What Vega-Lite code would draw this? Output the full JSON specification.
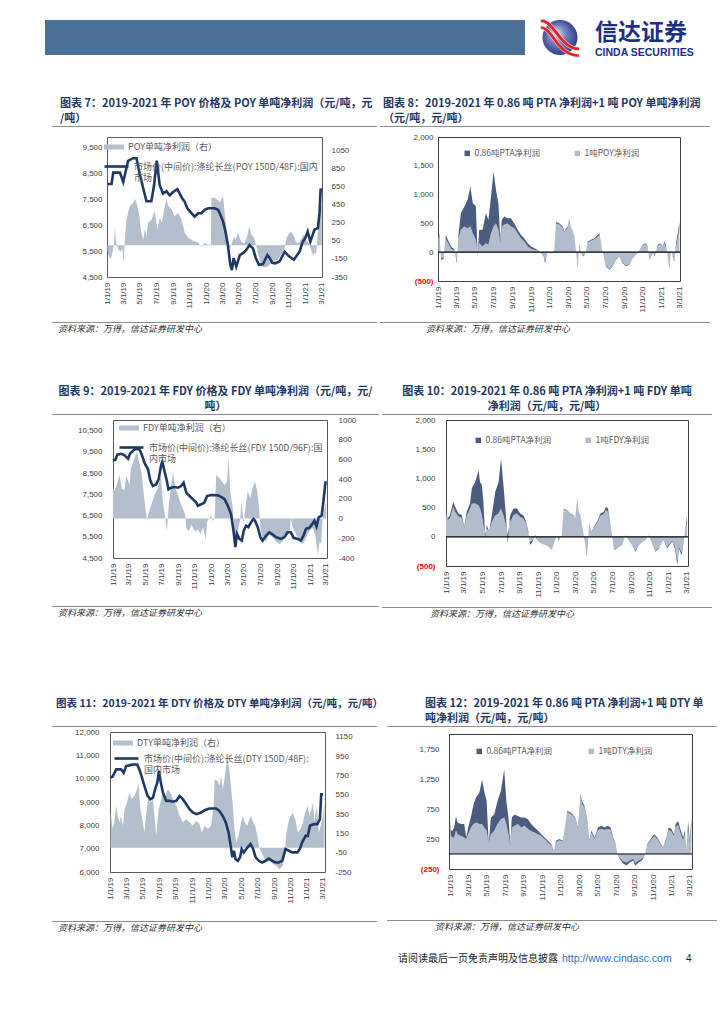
{
"$schema": "https://vega.github.io/schema/vega-lite/v6.json",
"padding": {"left": 45, "top": 17, "right": 0, "bottom": 0},
"config": {
 "view": {"stroke": null},
 "font": "Noto Sans CJK SC",
 "axis": {"domain": false, "ticks": false, "grid": false, "labelFont": "Liberation Sans", "labelFontSize": 8, "labelColor": "#404040", "labelOverlap": false, "labelFlush": false},
 "legend": {"labelFont": "Noto Sans CJK SC", "labelFontSize": 8.5, "labelColor": "#595959", "labelLimit": 300, "padding": 0},
 "title": {"font": "Noto Sans CJK SC", "fontWeight": "bold", "fontSize": 11, "color": "#1f3763", "anchor": "start", "frame": "group", "offset": 2, "lineHeight": 15}
},
"datasets": {
 "p7": [{"d":"2019-01-01","v":8100},{"d":"2019-01-16","v":8100},{"d":"2019-01-22","v":8540},{"d":"2019-02-16","v":8540},{"d":"2019-02-28","v":8180},{"d":"2019-03-18","v":9000},{"d":"2019-04-06","v":9100},{"d":"2019-04-18","v":9100},{"d":"2019-04-30","v":8500},{"d":"2019-05-16","v":7800},{"d":"2019-05-25","v":7430},{"d":"2019-06-12","v":7430},{"d":"2019-06-22","v":8050},{"d":"2019-07-02","v":9000},{"d":"2019-07-13","v":8050},{"d":"2019-07-25","v":7730},{"d":"2019-08-07","v":7820},{"d":"2019-08-19","v":7660},{"d":"2019-08-31","v":7790},{"d":"2019-09-16","v":7900},{"d":"2019-10-04","v":7550},{"d":"2019-10-13","v":7420},{"d":"2019-10-23","v":7160},{"d":"2019-11-07","v":6970},{"d":"2019-11-19","v":6840},{"d":"2019-12-02","v":6970},{"d":"2019-12-14","v":6970},{"d":"2019-12-26","v":7100},{"d":"2020-01-08","v":7160},{"d":"2020-02-01","v":7160},{"d":"2020-02-14","v":7100},{"d":"2020-02-20","v":6970},{"d":"2020-03-03","v":6650},{"d":"2020-03-12","v":6260},{"d":"2020-03-21","v":5740},{"d":"2020-03-30","v":4970},{"d":"2020-04-05","v":4770},{"d":"2020-04-11","v":5230},{"d":"2020-04-21","v":4900},{"d":"2020-05-04","v":5350},{"d":"2020-05-16","v":5420},{"d":"2020-05-28","v":5550},{"d":"2020-06-09","v":5740},{"d":"2020-06-22","v":5610},{"d":"2020-07-02","v":5230},{"d":"2020-07-14","v":4970},{"d":"2020-07-29","v":5000},{"d":"2020-08-14","v":5350},{"d":"2020-08-22","v":5250},{"d":"2020-09-01","v":5050},{"d":"2020-09-12","v":5030},{"d":"2020-09-28","v":5100},{"d":"2020-10-17","v":5480},{"d":"2020-10-31","v":5320},{"d":"2020-11-20","v":5170},{"d":"2020-12-11","v":5480},{"d":"2020-12-23","v":5870},{"d":"2021-01-01","v":6000},{"d":"2021-01-10","v":6260},{"d":"2021-01-20","v":5870},{"d":"2021-02-04","v":6330},{"d":"2021-02-17","v":6400},{"d":"2021-02-23","v":7000},{"d":"2021-02-27","v":7920},{"d":"2021-03-03","v":7800}],
 "q7": [{"d":"2019-01-01","v":-60},{"d":"2019-01-06","v":-120},{"d":"2019-01-13","v":-155},{"d":"2019-01-19","v":-80},{"d":"2019-01-25","v":20},{"d":"2019-01-28","v":195},{"d":"2019-02-02","v":30},{"d":"2019-02-09","v":-40},{"d":"2019-02-18","v":-70},{"d":"2019-02-24","v":-30},{"d":"2019-03-02","v":-190},{"d":"2019-03-06","v":60},{"d":"2019-03-12","v":290},{"d":"2019-03-24","v":430},{"d":"2019-04-06","v":470},{"d":"2019-04-12","v":510},{"d":"2019-04-18","v":470},{"d":"2019-04-27","v":360},{"d":"2019-05-06","v":140},{"d":"2019-05-13","v":65},{"d":"2019-05-19","v":180},{"d":"2019-05-25","v":100},{"d":"2019-05-31","v":250},{"d":"2019-06-12","v":280},{"d":"2019-06-25","v":380},{"d":"2019-07-04","v":175},{"d":"2019-07-13","v":300},{"d":"2019-07-21","v":250},{"d":"2019-07-31","v":420},{"d":"2019-08-07","v":510},{"d":"2019-08-13","v":440},{"d":"2019-08-25","v":400},{"d":"2019-09-06","v":320},{"d":"2019-09-19","v":360},{"d":"2019-10-01","v":290},{"d":"2019-10-13","v":140},{"d":"2019-10-26","v":85},{"d":"2019-11-13","v":50},{"d":"2019-12-02","v":30},{"d":"2019-12-08","v":0},{"d":"2019-12-20","v":-10},{"d":"2019-12-26","v":30},{"d":"2020-01-08","v":5},{"d":"2020-01-18","v":10},{"d":"2020-01-20","v":525},{"d":"2020-02-01","v":525},{"d":"2020-02-14","v":500},{"d":"2020-02-20","v":470},{"d":"2020-02-26","v":510},{"d":"2020-03-03","v":545},{"d":"2020-03-09","v":360},{"d":"2020-03-15","v":210},{"d":"2020-03-21","v":30},{"d":"2020-03-30","v":-30},{"d":"2020-04-05","v":20},{"d":"2020-04-12","v":100},{"d":"2020-04-18","v":65},{"d":"2020-04-27","v":140},{"d":"2020-05-09","v":40},{"d":"2020-05-21","v":20},{"d":"2020-05-31","v":100},{"d":"2020-06-09","v":210},{"d":"2020-06-15","v":120},{"d":"2020-06-25","v":85},{"d":"2020-07-02","v":20},{"d":"2020-07-10","v":-80},{"d":"2020-07-23","v":-230},{"d":"2020-08-04","v":-245},{"d":"2020-08-17","v":-230},{"d":"2020-08-29","v":-190},{"d":"2020-09-10","v":-170},{"d":"2020-09-23","v":-155},{"d":"2020-10-05","v":-100},{"d":"2020-10-17","v":-30},{"d":"2020-10-24","v":85},{"d":"2020-11-05","v":140},{"d":"2020-11-12","v":145},{"d":"2020-11-20","v":100},{"d":"2020-11-29","v":30},{"d":"2020-12-11","v":30},{"d":"2020-12-20","v":90},{"d":"2020-12-27","v":120},{"d":"2021-01-05","v":60},{"d":"2021-01-17","v":0},{"d":"2021-01-30","v":-118},{"d":"2021-02-04","v":-80},{"d":"2021-02-10","v":-100},{"d":"2021-02-17","v":150},{"d":"2021-02-21","v":270},{"d":"2021-02-26","v":470},{"d":"2021-03-03","v":420}],
 "s8": [{"d":"2019-01-01","l":250,"t":300},{"d":"2019-01-04","l":250,"t":330},{"d":"2019-01-10","l":-100,"t":-130},{"d":"2019-01-18","l":-90,"t":-120},{"d":"2019-01-26","l":230,"t":300},{"d":"2019-02-01","l":170,"t":215},{"d":"2019-02-12","l":60,"t":100},{"d":"2019-02-22","l":30,"t":50},{"d":"2019-03-03","l":-150,"t":-190},{"d":"2019-03-08","l":240,"t":300},{"d":"2019-03-16","l":390,"t":680},{"d":"2019-03-27","l":445,"t":790},{"d":"2019-04-07","l":415,"t":910},{"d":"2019-04-16","l":445,"t":1140},{"d":"2019-04-24","l":330,"t":850},{"d":"2019-05-04","l":215,"t":800},{"d":"2019-05-10","l":-40,"t":-75},{"d":"2019-05-15","l":155,"t":390},{"d":"2019-05-26","l":100,"t":390},{"d":"2019-06-06","l":155,"t":680},{"d":"2019-06-14","l":130,"t":560},{"d":"2019-06-23","l":330,"t":970},{"d":"2019-07-01","l":445,"t":1400},{"d":"2019-07-09","l":500,"t":1080},{"d":"2019-07-17","l":390,"t":850},{"d":"2019-07-23","l":155,"t":215},{"d":"2019-07-28","l":445,"t":560},{"d":"2019-08-05","l":475,"t":620},{"d":"2019-08-16","l":500,"t":590},{"d":"2019-08-27","l":445,"t":590},{"d":"2019-09-07","l":415,"t":500},{"d":"2019-09-18","l":330,"t":390},{"d":"2019-09-29","l":240,"t":300},{"d":"2019-10-10","l":185,"t":240},{"d":"2019-10-21","l":100,"t":155},{"d":"2019-11-01","l":60,"t":100},{"d":"2019-11-12","l":40,"t":70},{"d":"2019-11-23","l":30,"t":40},{"d":"2019-12-04","l":-10,"t":-15},{"d":"2019-12-12","l":-60,"t":-75},{"d":"2019-12-17","l":-150,"t":-190},{"d":"2019-12-25","l":20,"t":20},{"d":"2020-01-05","l":-30,"t":-30},{"d":"2020-01-16","l":40,"t":40},{"d":"2020-01-22","l":500,"t":530},{"d":"2020-02-02","l":480,"t":500},{"d":"2020-02-13","l":420,"t":445},{"d":"2020-02-18","l":350,"t":360},{"d":"2020-02-24","l":400,"t":415},{"d":"2020-02-29","l":430,"t":445},{"d":"2020-03-05","l":580,"t":590},{"d":"2020-03-11","l":410,"t":415},{"d":"2020-03-16","l":385,"t":390},{"d":"2020-03-22","l":265,"t":270},{"d":"2020-03-27","l":40,"t":40},{"d":"2020-04-02","l":-250,"t":-280},{"d":"2020-04-07","l":140,"t":155},{"d":"2020-04-13","l":-20,"t":-20},{"d":"2020-04-18","l":-60,"t":-75},{"d":"2020-04-26","l":-40,"t":-45},{"d":"2020-05-05","l":170,"t":185},{"d":"2020-05-15","l":200,"t":215},{"d":"2020-05-26","l":220,"t":240},{"d":"2020-06-06","l":270,"t":300},{"d":"2020-06-12","l":300,"t":330},{"d":"2020-06-17","l":150,"t":155},{"d":"2020-06-26","l":-70,"t":-75},{"d":"2020-07-04","l":-230,"t":-250},{"d":"2020-07-15","l":-290,"t":-305},{"d":"2020-07-25","l":-240,"t":-250},{"d":"2020-08-05","l":-120,"t":-130},{"d":"2020-08-16","l":-70,"t":-75},{"d":"2020-08-27","l":-180,"t":-190},{"d":"2020-09-07","l":-230,"t":-245},{"d":"2020-09-18","l":-210,"t":-220},{"d":"2020-09-29","l":-100,"t":-105},{"d":"2020-10-10","l":-40,"t":-45},{"d":"2020-10-21","l":40,"t":40},{"d":"2020-11-01","l":120,"t":130},{"d":"2020-11-11","l":140,"t":155},{"d":"2020-11-17","l":90,"t":100},{"d":"2020-11-23","l":-110,"t":-130},{"d":"2020-12-04","l":-20,"t":-20},{"d":"2020-12-11","l":-60,"t":-75},{"d":"2020-12-20","l":110,"t":130},{"d":"2020-12-29","l":140,"t":155},{"d":"2021-01-05","l":90,"t":100},{"d":"2021-01-11","l":160,"t":185},{"d":"2021-01-16","l":100,"t":130},{"d":"2021-01-22","l":-60,"t":-75},{"d":"2021-01-27","l":-240,"t":-280},{"d":"2021-02-02","l":30,"t":40},{"d":"2021-02-07","l":-60,"t":-75},{"d":"2021-02-13","l":-140,"t":-160},{"d":"2021-02-18","l":100,"t":155},{"d":"2021-02-24","l":250,"t":330},{"d":"2021-03-01","l":400,"t":530}],
 "p9": [{"d":"2019-01-01","v":9090},{"d":"2019-01-10","v":9130},{"d":"2019-01-17","v":9370},{"d":"2019-02-01","v":9410},{"d":"2019-02-13","v":9340},{"d":"2019-02-26","v":9180},{"d":"2019-03-05","v":9410},{"d":"2019-03-16","v":9550},{"d":"2019-03-28","v":9650},{"d":"2019-04-10","v":9600},{"d":"2019-04-18","v":9370},{"d":"2019-04-28","v":8980},{"d":"2019-05-11","v":8670},{"d":"2019-05-20","v":8120},{"d":"2019-05-29","v":7890},{"d":"2019-06-10","v":7970},{"d":"2019-06-19","v":8200},{"d":"2019-06-29","v":8900},{"d":"2019-07-03","v":9030},{"d":"2019-07-11","v":8590},{"d":"2019-07-20","v":8120},{"d":"2019-07-26","v":7730},{"d":"2019-08-05","v":7810},{"d":"2019-08-17","v":7840},{"d":"2019-08-30","v":7810},{"d":"2019-09-11","v":7890},{"d":"2019-09-20","v":8050},{"d":"2019-09-30","v":7580},{"d":"2019-10-12","v":7420},{"d":"2019-10-24","v":7270},{"d":"2019-11-06","v":7110},{"d":"2019-11-12","v":6960},{"d":"2019-11-24","v":7030},{"d":"2019-12-06","v":7110},{"d":"2019-12-16","v":7420},{"d":"2019-12-31","v":7470},{"d":"2020-01-25","v":7450},{"d":"2020-02-06","v":7380},{"d":"2020-02-19","v":7270},{"d":"2020-03-02","v":6960},{"d":"2020-03-14","v":6570},{"d":"2020-03-23","v":5790},{"d":"2020-03-30","v":5010},{"d":"2020-04-05","v":5640},{"d":"2020-04-14","v":5400},{"d":"2020-04-23","v":5320},{"d":"2020-04-30","v":5790},{"d":"2020-05-09","v":6020},{"d":"2020-05-17","v":5950},{"d":"2020-05-27","v":6180},{"d":"2020-06-05","v":6340},{"d":"2020-06-11","v":6260},{"d":"2020-06-21","v":5950},{"d":"2020-07-01","v":5480},{"d":"2020-07-09","v":5320},{"d":"2020-07-22","v":5560},{"d":"2020-08-03","v":5710},{"d":"2020-08-16","v":5600},{"d":"2020-08-28","v":5480},{"d":"2020-09-15","v":5400},{"d":"2020-09-28","v":5480},{"d":"2020-10-10","v":5710},{"d":"2020-10-22","v":5710},{"d":"2020-11-01","v":5450},{"d":"2020-11-16","v":5400},{"d":"2020-11-28","v":5320},{"d":"2020-12-08","v":5560},{"d":"2020-12-17","v":5870},{"d":"2020-12-29","v":5920},{"d":"2021-01-08","v":6070},{"d":"2021-01-17","v":6260},{"d":"2021-01-25","v":5980},{"d":"2021-02-02","v":6410},{"d":"2021-02-13","v":6490},{"d":"2021-02-20","v":7190},{"d":"2021-02-27","v":8050},{"d":"2021-03-04","v":8050}],
 "q9": [{"d":"2019-01-01","v":310},{"d":"2019-01-07","v":280},{"d":"2019-01-19","v":375},{"d":"2019-01-25","v":445},{"d":"2019-02-03","v":300},{"d":"2019-02-13","v":290},{"d":"2019-02-19","v":445},{"d":"2019-03-03","v":340},{"d":"2019-03-09","v":510},{"d":"2019-03-21","v":610},{"d":"2019-03-31","v":680},{"d":"2019-04-10","v":545},{"d":"2019-04-18","v":445},{"d":"2019-04-28","v":175},{"d":"2019-05-07","v":-25},{"d":"2019-05-13","v":55},{"d":"2019-05-23","v":140},{"d":"2019-06-04","v":240},{"d":"2019-06-17","v":310},{"d":"2019-06-27","v":445},{"d":"2019-07-05","v":175},{"d":"2019-07-14","v":5},{"d":"2019-07-20","v":-130},{"d":"2019-07-26","v":110},{"d":"2019-08-03","v":310},{"d":"2019-08-12","v":480},{"d":"2019-08-20","v":310},{"d":"2019-08-30","v":240},{"d":"2019-09-11","v":140},{"d":"2019-09-26","v":40},{"d":"2019-09-30","v":-95},{"d":"2019-10-09","v":-130},{"d":"2019-10-19","v":-60},{"d":"2019-10-31","v":-130},{"d":"2019-11-12","v":-110},{"d":"2019-11-22","v":-160},{"d":"2019-12-01","v":-90},{"d":"2019-12-11","v":-210},{"d":"2019-12-17","v":-25},{"d":"2019-12-26","v":5},{"d":"2019-12-31","v":40},{"d":"2020-01-06","v":-25},{"d":"2020-01-13","v":5},{"d":"2020-01-19","v":445},{"d":"2020-01-31","v":410},{"d":"2020-02-09","v":375},{"d":"2020-02-19","v":340},{"d":"2020-02-28","v":375},{"d":"2020-03-05","v":610},{"d":"2020-03-11","v":275},{"d":"2020-03-20","v":110},{"d":"2020-03-26","v":-130},{"d":"2020-04-01","v":-295},{"d":"2020-04-07","v":-145},{"d":"2020-04-16","v":-25},{"d":"2020-04-22","v":175},{"d":"2020-04-30","v":-60},{"d":"2020-05-09","v":175},{"d":"2020-05-15","v":275},{"d":"2020-05-25","v":210},{"d":"2020-06-02","v":310},{"d":"2020-06-11","v":375},{"d":"2020-06-19","v":275},{"d":"2020-06-26","v":110},{"d":"2020-07-01","v":-95},{"d":"2020-07-09","v":-195},{"d":"2020-07-22","v":-230},{"d":"2020-08-03","v":-160},{"d":"2020-08-16","v":-195},{"d":"2020-08-28","v":-230},{"d":"2020-09-10","v":-260},{"d":"2020-09-22","v":-230},{"d":"2020-10-04","v":-145},{"d":"2020-10-17","v":-130},{"d":"2020-10-22","v":5},{"d":"2020-10-29","v":-95},{"d":"2020-11-10","v":-160},{"d":"2020-11-23","v":-230},{"d":"2020-12-05","v":-260},{"d":"2020-12-17","v":-195},{"d":"2020-12-29","v":-130},{"d":"2021-01-11","v":-95},{"d":"2021-01-20","v":-160},{"d":"2021-01-30","v":-365},{"d":"2021-02-06","v":-230},{"d":"2021-02-11","v":-260},{"d":"2021-02-17","v":5},{"d":"2021-02-24","v":110},{"d":"2021-03-02","v":175}],
 "s10": [{"d":"2019-01-01","l":400,"t":490},{"d":"2019-01-06","l":290,"t":315},{"d":"2019-01-14","l":315,"t":370},{"d":"2019-01-25","l":515,"t":600},{"d":"2019-01-31","l":430,"t":515},{"d":"2019-02-11","l":350,"t":400},{"d":"2019-02-22","l":320,"t":370},{"d":"2019-03-02","l":150,"t":170},{"d":"2019-03-10","l":350,"t":430},{"d":"2019-03-21","l":485,"t":570},{"d":"2019-03-27","l":570,"t":830},{"d":"2019-04-07","l":570,"t":940},{"d":"2019-04-18","l":540,"t":1140},{"d":"2019-04-23","l":485,"t":940},{"d":"2019-04-29","l":370,"t":885},{"d":"2019-05-04","l":200,"t":600},{"d":"2019-05-10","l":50,"t":-30},{"d":"2019-05-15","l":140,"t":200},{"d":"2019-05-23","l":85,"t":85},{"d":"2019-06-01","l":255,"t":370},{"d":"2019-06-12","l":370,"t":770},{"d":"2019-06-23","l":400,"t":940},{"d":"2019-07-01","l":485,"t":1340},{"d":"2019-07-09","l":370,"t":885},{"d":"2019-07-17","l":200,"t":370},{"d":"2019-07-23","l":30,"t":-115},{"d":"2019-07-31","l":255,"t":370},{"d":"2019-08-11","l":370,"t":485},{"d":"2019-08-22","l":400,"t":485},{"d":"2019-09-02","l":340,"t":400},{"d":"2019-09-13","l":310,"t":370},{"d":"2019-09-21","l":230,"t":260},{"d":"2019-09-29","l":60,"t":85},{"d":"2019-10-05","l":-90,"t":-140},{"d":"2019-10-13","l":-60,"t":-85},{"d":"2019-10-21","l":10,"t":30},{"d":"2019-11-01","l":-80,"t":-85},{"d":"2019-11-12","l":-110,"t":-115},{"d":"2019-11-23","l":-140,"t":-140},{"d":"2019-12-04","l":-170,"t":-170},{"d":"2019-12-15","l":-230,"t":-230},{"d":"2019-12-21","l":-140,"t":-140},{"d":"2019-12-26","l":-55,"t":-55},{"d":"2020-01-01","l":30,"t":30},{"d":"2020-01-06","l":-85,"t":-85},{"d":"2020-01-17","l":30,"t":30},{"d":"2020-01-23","l":470,"t":485},{"d":"2020-02-03","l":450,"t":460},{"d":"2020-02-14","l":390,"t":400},{"d":"2020-02-25","l":360,"t":370},{"d":"2020-03-01","l":300,"t":310},{"d":"2020-03-08","l":640,"t":660},{"d":"2020-03-12","l":420,"t":430},{"d":"2020-03-18","l":360,"t":370},{"d":"2020-03-23","l":190,"t":200},{"d":"2020-03-29","l":30,"t":30},{"d":"2020-04-03","l":-130,"t":-140},{"d":"2020-04-08","l":-300,"t":-340},{"d":"2020-04-12","l":-80,"t":-85},{"d":"2020-04-16","l":210,"t":230},{"d":"2020-04-23","l":80,"t":85},{"d":"2020-05-01","l":160,"t":170},{"d":"2020-05-12","l":240,"t":260},{"d":"2020-05-23","l":360,"t":400},{"d":"2020-06-03","l":390,"t":430},{"d":"2020-06-10","l":460,"t":515},{"d":"2020-06-17","l":430,"t":485},{"d":"2020-06-25","l":180,"t":200},{"d":"2020-06-30","l":30,"t":30},{"d":"2020-07-06","l":-190,"t":-200},{"d":"2020-07-11","l":-220,"t":-230},{"d":"2020-07-22","l":-160,"t":-170},{"d":"2020-08-02","l":-130,"t":-140},{"d":"2020-08-13","l":30,"t":30},{"d":"2020-08-24","l":-50,"t":-55},{"d":"2020-09-04","l":-130,"t":-140},{"d":"2020-09-15","l":-240,"t":-255},{"d":"2020-09-26","l":-130,"t":-140},{"d":"2020-10-07","l":-80,"t":-85},{"d":"2020-10-18","l":-50,"t":-55},{"d":"2020-10-29","l":30,"t":30},{"d":"2020-11-09","l":-110,"t":-115},{"d":"2020-11-20","l":-240,"t":-255},{"d":"2020-12-01","l":-190,"t":-200},{"d":"2020-12-12","l":-80,"t":-85},{"d":"2020-12-17","l":-50,"t":-55},{"d":"2020-12-28","l":-180,"t":-200},{"d":"2021-01-05","l":-120,"t":-140},{"d":"2021-01-14","l":-70,"t":-85},{"d":"2021-01-23","l":-170,"t":-200},{"d":"2021-01-31","l":-400,"t":-485},{"d":"2021-02-05","l":-170,"t":-200},{"d":"2021-02-14","l":-270,"t":-315},{"d":"2021-02-21","l":-70,"t":-85},{"d":"2021-02-27","l":110,"t":140},{"d":"2021-03-04","l":250,"t":370}],
 "p11": [{"d":"2019-01-01","v":10050},{"d":"2019-01-09","v":10090},{"d":"2019-01-22","v":10400},{"d":"2019-02-09","v":10400},{"d":"2019-02-19","v":10260},{"d":"2019-02-28","v":10540},{"d":"2019-03-12","v":10570},{"d":"2019-03-25","v":10610},{"d":"2019-04-10","v":10610},{"d":"2019-04-18","v":10400},{"d":"2019-04-27","v":10090},{"d":"2019-05-07","v":9690},{"d":"2019-05-19","v":9260},{"d":"2019-05-29","v":9120},{"d":"2019-06-08","v":9190},{"d":"2019-06-16","v":9550},{"d":"2019-06-24","v":9830},{"d":"2019-06-30","v":10330},{"d":"2019-07-06","v":9900},{"d":"2019-07-15","v":9400},{"d":"2019-07-27","v":9050},{"d":"2019-08-09","v":9050},{"d":"2019-08-21","v":9010},{"d":"2019-09-03","v":9050},{"d":"2019-09-15","v":9260},{"d":"2019-09-27","v":9120},{"d":"2019-10-10","v":8900},{"d":"2019-10-22","v":8690},{"d":"2019-11-03","v":8550},{"d":"2019-11-16","v":8480},{"d":"2019-12-04","v":8550},{"d":"2019-12-19","v":8660},{"d":"2020-01-04","v":8720},{"d":"2020-01-29","v":8720},{"d":"2020-02-10","v":8620},{"d":"2020-02-22","v":8410},{"d":"2020-03-05","v":8120},{"d":"2020-03-15","v":7700},{"d":"2020-03-23","v":7130},{"d":"2020-03-29","v":6630},{"d":"2020-04-04","v":6910},{"d":"2020-04-10","v":6560},{"d":"2020-04-19","v":6480},{"d":"2020-04-27","v":6630},{"d":"2020-05-03","v":6980},{"d":"2020-05-11","v":6840},{"d":"2020-05-24","v":7050},{"d":"2020-06-05","v":7200},{"d":"2020-06-14","v":7010},{"d":"2020-06-24","v":6630},{"d":"2020-07-06","v":6480},{"d":"2020-07-18","v":6410},{"d":"2020-07-31","v":6480},{"d":"2020-08-12","v":6580},{"d":"2020-08-25","v":6480},{"d":"2020-09-06","v":6410},{"d":"2020-09-18","v":6410},{"d":"2020-10-01","v":6480},{"d":"2020-10-13","v":6980},{"d":"2020-10-26","v":6910},{"d":"2020-11-07","v":6840},{"d":"2020-11-26","v":6840},{"d":"2020-12-05","v":6980},{"d":"2020-12-14","v":7270},{"d":"2020-12-27","v":7550},{"d":"2021-01-04","v":7550},{"d":"2021-01-12","v":7980},{"d":"2021-01-27","v":8050},{"d":"2021-02-08","v":8050},{"d":"2021-02-18","v":8260},{"d":"2021-02-23","v":9330},{"d":"2021-03-02","v":9330}],
 "q11": [{"d":"2019-01-01","v":365},{"d":"2019-01-03","v":330},{"d":"2019-01-09","v":195},{"d":"2019-01-15","v":265},{"d":"2019-01-22","v":435},{"d":"2019-01-28","v":330},{"d":"2019-02-03","v":265},{"d":"2019-02-09","v":330},{"d":"2019-02-16","v":230},{"d":"2019-02-22","v":400},{"d":"2019-03-03","v":470},{"d":"2019-03-12","v":570},{"d":"2019-03-21","v":505},{"d":"2019-03-31","v":540},{"d":"2019-04-10","v":605},{"d":"2019-04-15","v":675},{"d":"2019-04-22","v":400},{"d":"2019-05-01","v":265},{"d":"2019-05-07","v":160},{"d":"2019-05-13","v":330},{"d":"2019-05-22","v":540},{"d":"2019-05-29","v":470},{"d":"2019-06-08","v":505},{"d":"2019-06-14","v":300},{"d":"2019-06-20","v":125},{"d":"2019-06-29","v":400},{"d":"2019-07-06","v":470},{"d":"2019-07-15","v":605},{"d":"2019-07-23","v":540},{"d":"2019-08-02","v":605},{"d":"2019-08-12","v":570},{"d":"2019-08-21","v":505},{"d":"2019-09-03","v":435},{"d":"2019-09-15","v":330},{"d":"2019-09-27","v":265},{"d":"2019-10-10","v":300},{"d":"2019-10-22","v":265},{"d":"2019-11-03","v":230},{"d":"2019-11-16","v":280},{"d":"2019-11-28","v":245},{"d":"2019-12-07","v":160},{"d":"2019-12-17","v":230},{"d":"2019-12-29","v":195},{"d":"2020-01-10","v":230},{"d":"2020-01-20","v":435},{"d":"2020-01-23","v":710},{"d":"2020-02-04","v":690},{"d":"2020-02-10","v":640},{"d":"2020-02-17","v":745},{"d":"2020-02-23","v":605},{"d":"2020-02-29","v":710},{"d":"2020-03-06","v":845},{"d":"2020-03-10","v":915},{"d":"2020-03-19","v":795},{"d":"2020-03-25","v":605},{"d":"2020-03-31","v":435},{"d":"2020-04-06","v":195},{"d":"2020-04-13","v":55},{"d":"2020-04-21","v":125},{"d":"2020-05-01","v":265},{"d":"2020-05-08","v":330},{"d":"2020-05-14","v":265},{"d":"2020-05-24","v":230},{"d":"2020-06-01","v":300},{"d":"2020-06-07","v":330},{"d":"2020-06-14","v":265},{"d":"2020-06-22","v":230},{"d":"2020-06-30","v":125},{"d":"2020-07-08","v":0},{"d":"2020-07-21","v":-80},{"d":"2020-08-02","v":-150},{"d":"2020-08-14","v":-130},{"d":"2020-08-27","v":-165},{"d":"2020-09-08","v":-185},{"d":"2020-09-21","v":-220},{"d":"2020-10-03","v":-185},{"d":"2020-10-09","v":-100},{"d":"2020-10-15","v":125},{"d":"2020-10-24","v":265},{"d":"2020-11-01","v":330},{"d":"2020-11-09","v":365},{"d":"2020-11-18","v":300},{"d":"2020-11-28","v":160},{"d":"2020-12-08","v":195},{"d":"2020-12-17","v":265},{"d":"2020-12-25","v":365},{"d":"2021-01-04","v":435},{"d":"2021-01-10","v":330},{"d":"2021-01-17","v":400},{"d":"2021-01-23","v":470},{"d":"2021-01-29","v":280},{"d":"2021-02-07","v":435},{"d":"2021-02-14","v":160},{"d":"2021-02-21","v":230},{"d":"2021-03-01","v":330},{"d":"2021-03-07","v":470}],
 "s12": [{"d":"2019-01-01","l":450,"t":550},{"d":"2019-01-03","l":300,"t":390},{"d":"2019-01-09","l":275,"t":390},{"d":"2019-01-14","l":275,"t":440},{"d":"2019-01-20","l":390,"t":635},{"d":"2019-01-25","l":330,"t":525},{"d":"2019-02-05","l":300,"t":500},{"d":"2019-02-16","l":275,"t":500},{"d":"2019-02-23","l":250,"t":275},{"d":"2019-03-01","l":330,"t":440},{"d":"2019-03-10","l":440,"t":610},{"d":"2019-03-19","l":500,"t":830},{"d":"2019-03-27","l":525,"t":940},{"d":"2019-04-07","l":500,"t":1020},{"d":"2019-04-16","l":500,"t":1240},{"d":"2019-04-23","l":440,"t":1050},{"d":"2019-05-01","l":390,"t":885},{"d":"2019-05-08","l":165,"t":165},{"d":"2019-05-15","l":330,"t":610},{"d":"2019-05-26","l":385,"t":660},{"d":"2019-06-06","l":500,"t":885},{"d":"2019-06-17","l":580,"t":1050},{"d":"2019-06-28","l":610,"t":1410},{"d":"2019-07-05","l":500,"t":885},{"d":"2019-07-12","l":330,"t":610},{"d":"2019-07-18","l":140,"t":165},{"d":"2019-07-23","l":440,"t":610},{"d":"2019-08-01","l":470,"t":660},{"d":"2019-08-12","l":500,"t":635},{"d":"2019-08-23","l":440,"t":610},{"d":"2019-09-03","l":470,"t":610},{"d":"2019-09-14","l":415,"t":580},{"d":"2019-09-25","l":385,"t":500},{"d":"2019-10-06","l":360,"t":440},{"d":"2019-10-17","l":330,"t":390},{"d":"2019-10-28","l":300,"t":330},{"d":"2019-11-08","l":250,"t":275},{"d":"2019-11-19","l":190,"t":220},{"d":"2019-11-30","l":150,"t":165},{"d":"2019-12-09","l":50,"t":55},{"d":"2019-12-16","l":200,"t":220},{"d":"2019-12-27","l":230,"t":250},{"d":"2020-01-07","l":210,"t":220},{"d":"2020-01-13","l":380,"t":390},{"d":"2020-01-22","l":700,"t":720},{"d":"2020-02-02","l":670,"t":690},{"d":"2020-02-09","l":640,"t":660},{"d":"2020-02-17","l":590,"t":610},{"d":"2020-02-26","l":420,"t":440},{"d":"2020-03-06","l":940,"t":995},{"d":"2020-03-10","l":840,"t":880},{"d":"2020-03-19","l":770,"t":800},{"d":"2020-03-28","l":520,"t":550},{"d":"2020-04-04","l":200,"t":220},{"d":"2020-04-10","l":360,"t":390},{"d":"2020-04-21","l":250,"t":275},{"d":"2020-05-02","l":400,"t":440},{"d":"2020-05-13","l":420,"t":470},{"d":"2020-05-24","l":400,"t":440},{"d":"2020-06-04","l":420,"t":470},{"d":"2020-06-13","l":400,"t":440},{"d":"2020-06-21","l":250,"t":275},{"d":"2020-06-29","l":150,"t":165},{"d":"2020-07-05","l":0,"t":0},{"d":"2020-07-13","l":-60,"t":-80},{"d":"2020-07-24","l":-120,"t":-160},{"d":"2020-08-04","l":-140,"t":-190},{"d":"2020-08-15","l":-110,"t":-140},{"d":"2020-08-26","l":-80,"t":-110},{"d":"2020-09-02","l":-150,"t":-195},{"d":"2020-09-13","l":-110,"t":-140},{"d":"2020-09-24","l":-80,"t":-110},{"d":"2020-10-03","l":-20,"t":-25},{"d":"2020-10-12","l":150,"t":165},{"d":"2020-10-23","l":230,"t":250},{"d":"2020-11-03","l":300,"t":330},{"d":"2020-11-14","l":250,"t":275},{"d":"2020-11-25","l":150,"t":165},{"d":"2020-12-03","l":100,"t":110},{"d":"2020-12-14","l":250,"t":275},{"d":"2020-12-21","l":400,"t":440},{"d":"2020-12-30","l":380,"t":415},{"d":"2021-01-08","l":300,"t":330},{"d":"2021-01-13","l":450,"t":500},{"d":"2021-01-21","l":480,"t":550},{"d":"2021-01-30","l":330,"t":390},{"d":"2021-02-07","l":230,"t":275},{"d":"2021-02-12","l":330,"t":390},{"d":"2021-02-18","l":50,"t":55},{"d":"2021-02-23","l":420,"t":550},{"d":"2021-03-01","l":180,"t":220},{"d":"2021-03-06","l":450,"t":610}]
},
"spacing": 0,
"resolve": {"scale": {"fill": "independent", "stroke": "independent"}, "legend": {"fill": "independent", "stroke": "independent"}},
"vconcat": [
 {"hconcat": [
   {"width": 480, "height": 35, "view": {"fill": "#4a7098"}, "data": {"values": [{}]}, "mark": {"type": "point", "size": 0, "opacity": 0}},
   {"width": 50, "height": 35, "data": {"values": [{}]}, "layer": [
     {"mark": {"type": "point", "shape": "circle", "filled": true, "size": 1225, "opacity": 1, "strokeWidth": 0, "fill": {"gradient": "radial", "x1": 0.35, "y1": 0.35, "r1": 0, "x2": 0.5, "y2": 0.5, "r2": 0.6, "stops": [{"offset": 0, "color": "#e9edf6"}, {"offset": 0.45, "color": "#6f7fb8"}, {"offset": 1, "color": "#1c2d80"}]}}},
     {"mark": {"type": "point", "shape": "M-1,-0.95 C-0.2,-0.95 0.05,0.5 1,0.5 L1,0.68 C-0.05,0.68 -0.35,-0.78 -1,-0.78 Z M-1,-0.6 C-0.3,-0.6 -0.1,0.85 1,0.85 L1,1.02 C-0.2,1.02 -0.45,-0.43 -1,-0.43 Z", "filled": true, "size": 1500, "opacity": 1, "fill": "#e1222b", "stroke": "#ffffff", "strokeWidth": 0.6}}
   ]},
   {"width": 1, "height": 1, "data": {"values": [{}]}, "mark": {"type": "point", "size": 0, "opacity": 0},
    "title": {"text": "信达证券", "subtitle": "CINDA SECURITIES", "orient": "bottom", "fontSize": 23, "lineHeight": 24, "color": "#1c2f86", "subtitleColor": "#1c2f86", "subtitleFontSize": 10.5, "subtitleFontWeight": "bold", "subtitleFont": "Liberation Sans", "subtitlePadding": 3, "offset": 1}}
 ], "spacing": 10},
 {"width": 1, "height": 39, "data": {"values": [{}]}, "mark": {"type": "point", "size": 0, "opacity": 0}},
 {"hconcat": [
   {"width": 1, "height": 1, "data": {"values": [{}]}, "mark": {"type": "point", "size": 0, "opacity": 0}},
   {"hconcat": [
     {"vconcat": [
       {"width": 325, "height": 1, "view": {"fill": "#8c8c8c"}, "data": {"values": [{}]}, "mark": {"type": "point", "size": 0, "opacity": 0},
        "title": {"text": ["图表 7：2019-2021 年 POY 价格及 POY 单吨净利润（元/吨，元", "/吨）"], "dx": 8}},
       {"vconcat": [
         {"hconcat": [
           {"width": 1, "height": 1, "data": {"values": [{}]}, "mark": {"type": "point", "size": 0, "opacity": 0}},
           {"width": 215, "height": 140, "view": {"stroke": "#595959", "strokeWidth": 1},
            "layer": [
              {"data": {"name": "q7"}, "mark": {"type": "area"},
               "encoding": {
                 "x": {"field": "d", "type": "temporal", "scale": {"type": "utc", "domain": [{"year":2018,"month":12,"date":30,"utc":true},{"year":2021,"month":3,"date":4,"utc":true}]}, "axis": {"values": [{"year":2019,"month":1,"date":1,"utc":true},{"year":2019,"month":3,"date":1,"utc":true},{"year":2019,"month":5,"date":1,"utc":true},{"year":2019,"month":7,"date":1,"utc":true},{"year":2019,"month":9,"date":1,"utc":true},{"year":2019,"month":11,"date":1,"utc":true},{"year":2020,"month":1,"date":1,"utc":true},{"year":2020,"month":3,"date":1,"utc":true},{"year":2020,"month":5,"date":1,"utc":true},{"year":2020,"month":7,"date":1,"utc":true},{"year":2020,"month":9,"date":1,"utc":true},{"year":2020,"month":11,"date":1,"utc":true},{"year":2021,"month":1,"date":1,"utc":true},{"year":2021,"month":3,"date":1,"utc":true}], "labelExpr": "utcFormat(datum.value, '%-m/%-d/%y')", "labelOverlap": false, "labelAngle": 270, "labelPadding": 5, "title": null}},
                 "y": {"field": "v", "type": "quantitative", "scale": {"domain": [-350, 1195], "nice": false, "zero": false}, "axis": {"orient": "right", "values": [-350,-150,50,250,450,650,850,1050], "labelExpr": "'' + datum.value", "labelOverlap": false, "labelPadding": 9, "title": null}},
                 "fill": {"datum": "POY单吨净利润（右）", "type": "nominal", "scale": {"range": ["#b4bfce"]}, "legend": {"orient": "none", "legendX": -3, "legendY": 0, "symbolType": "M-1,-0.25H1V0.25H-1Z", "symbolSize": 400, "symbolStrokeWidth": 0, "labelOffset": 4, "labelFontSize": 9, "title": null}}
               }},
              {"data": {"name": "p7"}, "mark": {"type": "line", "strokeWidth": 2.6},
               "encoding": {
                 "x": {"field": "d", "type": "temporal", "axis": {"values": [{"year":2019,"month":1,"date":1,"utc":true},{"year":2019,"month":3,"date":1,"utc":true},{"year":2019,"month":5,"date":1,"utc":true},{"year":2019,"month":7,"date":1,"utc":true},{"year":2019,"month":9,"date":1,"utc":true},{"year":2019,"month":11,"date":1,"utc":true},{"year":2020,"month":1,"date":1,"utc":true},{"year":2020,"month":3,"date":1,"utc":true},{"year":2020,"month":5,"date":1,"utc":true},{"year":2020,"month":7,"date":1,"utc":true},{"year":2020,"month":9,"date":1,"utc":true},{"year":2020,"month":11,"date":1,"utc":true},{"year":2021,"month":1,"date":1,"utc":true},{"year":2021,"month":3,"date":1,"utc":true}], "labelExpr": "utcFormat(datum.value, '%-m/%-d/%y')", "labelOverlap": false, "labelAngle": 270, "labelPadding": 5, "title": null}},
                 "y": {"field": "v", "type": "quantitative", "scale": {"domain": [4500, 9920], "nice": false, "zero": false}, "axis": {"orient": "left", "values": [4500,5500,6500,7500,8500,9500], "labelExpr": "format(datum.value, ',')", "labelOverlap": false, "minExtent": 40, "labelPadding": 5, "title": null}},
                 "stroke": {"datum": "市场价", "type": "nominal", "scale": {"range": ["#1f3864"]}, "legend": {"orient": "none", "legendX": -4, "legendY": 16, "symbolType": "stroke", "symbolSize": 576, "symbolStrokeWidth": 2.6, "labelOffset": 4, "labelFontSize": 9, "title": null, "labelExpr": "['市场价(中间价):涤纶长丝(POY 150D/48F):国内', '市场']"}}
               }}
            ],
            "resolve": {"scale": {"y": "independent"}}}
         ], "spacing": 13, "resolve": {"scale": {"fill": "independent", "stroke": "independent"}, "legend": {"fill": "independent", "stroke": "independent"}}},
         {"width": 325, "height": 1, "view": {"fill": "#8c8c8c"}, "data": {"values": [{}]}, "mark": {"type": "point", "size": 0, "opacity": 0},
          "title": {"text": "资料来源：万得，信达证券研发中心", "orient": "bottom", "fontSize": 9, "fontWeight": "normal", "fontStyle": "italic", "color": "#333333", "dx": 6, "offset": 2}}
       ], "spacing": 13, "resolve": {"scale": {"fill": "independent", "stroke": "independent"}, "legend": {"fill": "independent", "stroke": "independent"}}}
     ], "spacing": 9, "resolve": {"scale": {"fill": "independent", "stroke": "independent"}, "legend": {"fill": "independent", "stroke": "independent"}}},
     {"vconcat": [
       {"width": 330, "height": 1, "view": {"fill": "#8c8c8c"}, "data": {"values": [{}]}, "mark": {"type": "point", "size": 0, "opacity": 0},
        "title": {"text": ["图表 8：2019-2021 年 0.86 吨 PTA 净利润+1 吨 POY 单吨净利润", "（元/吨，元/吨）"], "dx": 3}},
       {"vconcat": [
         {"hconcat": [
           {"width": 1, "height": 1, "data": {"values": [{}]}, "mark": {"type": "point", "size": 0, "opacity": 0}},
           {"width": 242, "height": 144, "view": {"stroke": "#404040", "strokeWidth": 1}, "data": {"name": "s8"},
            "layer": [
              {"mark": {"type": "area"},
               "encoding": {
                 "x": {"field": "d", "type": "temporal", "scale": {"type": "utc", "domain": [{"year":2018,"month":12,"date":31,"utc":true},{"year":2021,"month":3,"date":3,"utc":true}]}, "axis": {"values": [{"year":2019,"month":1,"date":1,"utc":true},{"year":2019,"month":3,"date":1,"utc":true},{"year":2019,"month":5,"date":1,"utc":true},{"year":2019,"month":7,"date":1,"utc":true},{"year":2019,"month":9,"date":1,"utc":true},{"year":2019,"month":11,"date":1,"utc":true},{"year":2020,"month":1,"date":1,"utc":true},{"year":2020,"month":3,"date":1,"utc":true},{"year":2020,"month":5,"date":1,"utc":true},{"year":2020,"month":7,"date":1,"utc":true},{"year":2020,"month":9,"date":1,"utc":true},{"year":2020,"month":11,"date":1,"utc":true},{"year":2021,"month":1,"date":1,"utc":true},{"year":2021,"month":3,"date":1,"utc":true}], "labelExpr": "utcFormat(datum.value, '%-m/%-d/%y')", "labelOverlap": false, "labelAngle": 270, "labelPadding": 5, "title": null}},
                 "y": {"field": "l", "type": "quantitative", "scale": {"domain": [-500, 2000], "nice": false, "zero": false}, "axis": {"values": [-500,0,500,1000,1500,2000], "labelExpr": "datum.value < 0 ? '(' + format(-datum.value, ',') + ')' : format(datum.value, ',')", "labelOverlap": false, "labelColor": {"condition": {"test": "datum.value < 0", "value": "#ff0000"}, "value": "#404040"}, "labelFontWeight": {"condition": {"test": "datum.value < 0", "value": "bold"}, "value": "normal"}, "minExtent": 40, "labelPadding": 5, "title": null}},
                 "y2": {"datum": 0},
                 "fill": {"datum": "1吨POY净利润", "type": "nominal", "scale": {"domain": ["0.86吨PTA净利润", "1吨POY净利润"], "range": ["#4b5d7f", "#b1bccc"]}, "legend": {"orient": "none", "legendX": 25, "legendY": 12, "direction": "horizontal", "symbolType": "square", "symbolSize": 30, "symbolStrokeWidth": 0, "columnPadding": 32, "labelOffset": 3, "title": null}}
               }},
              {"mark": {"type": "area"},
               "encoding": {
                 "x": {"field": "d", "type": "temporal", "axis": {"values": [{"year":2019,"month":1,"date":1,"utc":true},{"year":2019,"month":3,"date":1,"utc":true},{"year":2019,"month":5,"date":1,"utc":true},{"year":2019,"month":7,"date":1,"utc":true},{"year":2019,"month":9,"date":1,"utc":true},{"year":2019,"month":11,"date":1,"utc":true},{"year":2020,"month":1,"date":1,"utc":true},{"year":2020,"month":3,"date":1,"utc":true},{"year":2020,"month":5,"date":1,"utc":true},{"year":2020,"month":7,"date":1,"utc":true},{"year":2020,"month":9,"date":1,"utc":true},{"year":2020,"month":11,"date":1,"utc":true},{"year":2021,"month":1,"date":1,"utc":true},{"year":2021,"month":3,"date":1,"utc":true}], "labelExpr": "utcFormat(datum.value, '%-m/%-d/%y')", "labelOverlap": false, "labelAngle": 270, "labelPadding": 5, "title": null}},
                 "y": {"field": "t", "type": "quantitative", "axis": {"values": [-500,0,500,1000,1500,2000], "labelExpr": "datum.value < 0 ? '(' + format(-datum.value, ',') + ')' : format(datum.value, ',')", "labelOverlap": false, "labelColor": {"condition": {"test": "datum.value < 0", "value": "#ff0000"}, "value": "#404040"}, "labelFontWeight": {"condition": {"test": "datum.value < 0", "value": "bold"}, "value": "normal"}, "minExtent": 40, "labelPadding": 5, "title": null}},
                 "y2": {"field": "l"},
                 "fill": {"datum": "0.86吨PTA净利润", "type": "nominal"}
               }},
              {"data": {"values": [{}]}, "mark": {"type": "rule", "color": "#000000", "strokeWidth": 1.2}, "encoding": {"y": {"datum": 0, "type": "quantitative", "axis": {"values": [-500,0,500,1000,1500,2000], "labelExpr": "datum.value < 0 ? '(' + format(-datum.value, ',') + ')' : format(datum.value, ',')", "labelOverlap": false, "labelColor": {"condition": {"test": "datum.value < 0", "value": "#ff0000"}, "value": "#404040"}, "labelFontWeight": {"condition": {"test": "datum.value < 0", "value": "bold"}, "value": "normal"}, "minExtent": 40, "labelPadding": 5, "title": null}}}}
            ]}
         ], "spacing": 16, "resolve": {"scale": {"fill": "independent", "stroke": "independent"}, "legend": {"fill": "independent", "stroke": "independent"}}},
         {"width": 330, "height": 1, "view": {"fill": "#8c8c8c"}, "data": {"values": [{}]}, "mark": {"type": "point", "size": 0, "opacity": 0},
          "title": {"text": "资料来源：万得，信达证券研发中心", "orient": "bottom", "fontSize": 9, "fontWeight": "normal", "fontStyle": "italic", "color": "#333333", "dx": 46, "offset": 2}}
       ], "spacing": 9, "resolve": {"scale": {"fill": "independent", "stroke": "independent"}, "legend": {"fill": "independent", "stroke": "independent"}}}
     ], "spacing": 5, "resolve": {"scale": {"fill": "independent", "stroke": "independent"}, "legend": {"fill": "independent", "stroke": "independent"}}}
   ], "spacing": 3, "resolve": {"scale": {"fill": "independent", "stroke": "independent"}, "legend": {"fill": "independent", "stroke": "independent"}}}
 ], "spacing": 6, "resolve": {"scale": {"fill": "independent", "stroke": "independent"}, "legend": {"fill": "independent", "stroke": "independent"}}},
 {"width": 1, "height": 52, "data": {"values": [{}]}, "mark": {"type": "point", "size": 0, "opacity": 0}},
 {"hconcat": [
   {"width": 1, "height": 1, "data": {"values": [{}]}, "mark": {"type": "point", "size": 0, "opacity": 0}},
   {"hconcat": [
     {"vconcat": [
       {"width": 327, "height": 1, "view": {"fill": "#8c8c8c"}, "data": {"values": [{}]}, "mark": {"type": "point", "size": 0, "opacity": 0},
        "title": {"text": ["图表 9：2019-2021 年 FDY 价格及 FDY 单吨净利润（元/吨，元/", "吨）"], "anchor": "middle"}},
       {"vconcat": [
         {"hconcat": [
           {"width": 1, "height": 1, "data": {"values": [{}]}, "mark": {"type": "point", "size": 0, "opacity": 0}},
           {"width": 214, "height": 138, "view": {"stroke": "#595959", "strokeWidth": 1},
            "layer": [
              {"data": {"name": "q9"}, "mark": {"type": "area"},
               "encoding": {
                 "x": {"field": "d", "type": "temporal", "scale": {"type": "utc", "domain": [{"year":2019,"month":1,"date":1,"utc":true},{"year":2021,"month":3,"date":5,"utc":true}]}, "axis": {"values": [{"year":2019,"month":1,"date":1,"utc":true},{"year":2019,"month":3,"date":1,"utc":true},{"year":2019,"month":5,"date":1,"utc":true},{"year":2019,"month":7,"date":1,"utc":true},{"year":2019,"month":9,"date":1,"utc":true},{"year":2019,"month":11,"date":1,"utc":true},{"year":2020,"month":1,"date":1,"utc":true},{"year":2020,"month":3,"date":1,"utc":true},{"year":2020,"month":5,"date":1,"utc":true},{"year":2020,"month":7,"date":1,"utc":true},{"year":2020,"month":9,"date":1,"utc":true},{"year":2020,"month":11,"date":1,"utc":true},{"year":2021,"month":1,"date":1,"utc":true},{"year":2021,"month":3,"date":1,"utc":true}], "labelExpr": "utcFormat(datum.value, '%-m/%-d/%y')", "labelOverlap": false, "labelAngle": 270, "labelPadding": 5, "title": null}},
                 "y": {"field": "v", "type": "quantitative", "scale": {"domain": [-400, 1000], "nice": false, "zero": false}, "axis": {"orient": "right", "values": [-400,-200,0,200,400,600,800,1000], "labelExpr": "'' + datum.value", "labelOverlap": false, "labelPadding": 11, "title": null}},
                 "fill": {"datum": "FDY单吨净利润（右）", "type": "nominal", "scale": {"range": ["#b4bfce"]}, "legend": {"orient": "none", "legendX": 6, "legendY": -2, "symbolType": "M-1,-0.25H1V0.25H-1Z", "symbolSize": 400, "symbolStrokeWidth": 0, "labelOffset": 4, "labelFontSize": 9, "title": null}}
               }},
              {"data": {"name": "p9"}, "mark": {"type": "line", "strokeWidth": 2.6},
               "encoding": {
                 "x": {"field": "d", "type": "temporal", "axis": {"values": [{"year":2019,"month":1,"date":1,"utc":true},{"year":2019,"month":3,"date":1,"utc":true},{"year":2019,"month":5,"date":1,"utc":true},{"year":2019,"month":7,"date":1,"utc":true},{"year":2019,"month":9,"date":1,"utc":true},{"year":2019,"month":11,"date":1,"utc":true},{"year":2020,"month":1,"date":1,"utc":true},{"year":2020,"month":3,"date":1,"utc":true},{"year":2020,"month":5,"date":1,"utc":true},{"year":2020,"month":7,"date":1,"utc":true},{"year":2020,"month":9,"date":1,"utc":true},{"year":2020,"month":11,"date":1,"utc":true},{"year":2021,"month":1,"date":1,"utc":true},{"year":2021,"month":3,"date":1,"utc":true}], "labelExpr": "utcFormat(datum.value, '%-m/%-d/%y')", "labelOverlap": false, "labelAngle": 270, "labelPadding": 5, "title": null}},
                 "y": {"field": "v", "type": "quantitative", "scale": {"domain": [4500, 11000], "nice": false, "zero": false}, "axis": {"orient": "left", "values": [4500,5500,6500,7500,8500,9500,10500], "labelExpr": "format(datum.value, ',')", "labelOverlap": false, "minExtent": 40, "labelPadding": 11, "title": null}},
                 "stroke": {"datum": "市场价", "type": "nominal", "scale": {"range": ["#1f3864"]}, "legend": {"orient": "none", "legendX": 5, "legendY": 14, "symbolType": "stroke", "symbolSize": 576, "symbolStrokeWidth": 2.6, "labelOffset": 4, "labelFontSize": 9, "title": null, "labelExpr": "['市场价(中间价):涤纶长丝(FDY 150D/96F):国', '内市场']"}}
               }}
            ],
            "resolve": {"scale": {"y": "independent"}}}
         ], "spacing": 19, "resolve": {"scale": {"fill": "independent", "stroke": "independent"}, "legend": {"fill": "independent", "stroke": "independent"}}},
         {"width": 327, "height": 1, "view": {"fill": "#8c8c8c"}, "data": {"values": [{}]}, "mark": {"type": "point", "size": 0, "opacity": 0},
          "title": {"text": "资料来源：万得，信达证券研发中心", "orient": "bottom", "fontSize": 9, "fontWeight": "normal", "fontStyle": "italic", "color": "#333333", "dx": 6, "offset": 2}}
       ], "spacing": 16, "resolve": {"scale": {"fill": "independent", "stroke": "independent"}, "legend": {"fill": "independent", "stroke": "independent"}}}
     ], "spacing": 0, "resolve": {"scale": {"fill": "independent", "stroke": "independent"}, "legend": {"fill": "independent", "stroke": "independent"}}},
     {"vconcat": [
       {"width": 330, "height": 1, "view": {"fill": "#8c8c8c"}, "data": {"values": [{}]}, "mark": {"type": "point", "size": 0, "opacity": 0},
        "title": {"text": ["图表 10：2019-2021 年 0.86 吨 PTA 净利润+1 吨 FDY 单吨", "净利润（元/吨，元/吨）"], "anchor": "middle"}},
       {"vconcat": [
         {"hconcat": [
           {"width": 1, "height": 1, "data": {"values": [{}]}, "mark": {"type": "point", "size": 0, "opacity": 0}},
           {"width": 242, "height": 146, "view": {"stroke": "#404040", "strokeWidth": 1}, "data": {"name": "s10"},
            "layer": [
              {"mark": {"type": "area"},
               "encoding": {
                 "x": {"field": "d", "type": "temporal", "scale": {"type": "utc", "domain": [{"year":2019,"month":1,"date":1,"utc":true},{"year":2021,"month":3,"date":7,"utc":true}]}, "axis": {"values": [{"year":2019,"month":1,"date":1,"utc":true},{"year":2019,"month":3,"date":1,"utc":true},{"year":2019,"month":5,"date":1,"utc":true},{"year":2019,"month":7,"date":1,"utc":true},{"year":2019,"month":9,"date":1,"utc":true},{"year":2019,"month":11,"date":1,"utc":true},{"year":2020,"month":1,"date":1,"utc":true},{"year":2020,"month":3,"date":1,"utc":true},{"year":2020,"month":5,"date":1,"utc":true},{"year":2020,"month":7,"date":1,"utc":true},{"year":2020,"month":9,"date":1,"utc":true},{"year":2020,"month":11,"date":1,"utc":true},{"year":2021,"month":1,"date":1,"utc":true},{"year":2021,"month":3,"date":1,"utc":true}], "labelExpr": "utcFormat(datum.value, '%-m/%-d/%y')", "labelOverlap": false, "labelAngle": 270, "labelPadding": 5, "title": null}},
                 "y": {"field": "l", "type": "quantitative", "scale": {"domain": [-500, 2000], "nice": false, "zero": false}, "axis": {"values": [-500,0,500,1000,1500,2000], "labelExpr": "datum.value < 0 ? '(' + format(-datum.value, ',') + ')' : format(datum.value, ',')", "labelOverlap": false, "labelColor": {"condition": {"test": "datum.value < 0", "value": "#ff0000"}, "value": "#404040"}, "labelFontWeight": {"condition": {"test": "datum.value < 0", "value": "bold"}, "value": "normal"}, "minExtent": 40, "labelPadding": 11, "title": null}},
                 "y2": {"datum": 0},
                 "fill": {"datum": "1吨FDY净利润", "type": "nominal", "scale": {"domain": ["0.86吨PTA净利润", "1吨FDY净利润"], "range": ["#4b5d7f", "#b1bccc"]}, "legend": {"orient": "none", "legendX": 28, "legendY": 16, "direction": "horizontal", "symbolType": "square", "symbolSize": 30, "symbolStrokeWidth": 0, "columnPadding": 32, "labelOffset": 3, "title": null}}
               }},
              {"mark": {"type": "area"},
               "encoding": {
                 "x": {"field": "d", "type": "temporal", "axis": {"values": [{"year":2019,"month":1,"date":1,"utc":true},{"year":2019,"month":3,"date":1,"utc":true},{"year":2019,"month":5,"date":1,"utc":true},{"year":2019,"month":7,"date":1,"utc":true},{"year":2019,"month":9,"date":1,"utc":true},{"year":2019,"month":11,"date":1,"utc":true},{"year":2020,"month":1,"date":1,"utc":true},{"year":2020,"month":3,"date":1,"utc":true},{"year":2020,"month":5,"date":1,"utc":true},{"year":2020,"month":7,"date":1,"utc":true},{"year":2020,"month":9,"date":1,"utc":true},{"year":2020,"month":11,"date":1,"utc":true},{"year":2021,"month":1,"date":1,"utc":true},{"year":2021,"month":3,"date":1,"utc":true}], "labelExpr": "utcFormat(datum.value, '%-m/%-d/%y')", "labelOverlap": false, "labelAngle": 270, "labelPadding": 5, "title": null}},
                 "y": {"field": "t", "type": "quantitative", "axis": {"values": [-500,0,500,1000,1500,2000], "labelExpr": "datum.value < 0 ? '(' + format(-datum.value, ',') + ')' : format(datum.value, ',')", "labelOverlap": false, "labelColor": {"condition": {"test": "datum.value < 0", "value": "#ff0000"}, "value": "#404040"}, "labelFontWeight": {"condition": {"test": "datum.value < 0", "value": "bold"}, "value": "normal"}, "minExtent": 40, "labelPadding": 11, "title": null}},
                 "y2": {"field": "l"},
                 "fill": {"datum": "0.86吨PTA净利润", "type": "nominal"}
               }},
              {"data": {"values": [{}]}, "mark": {"type": "rule", "color": "#000000", "strokeWidth": 1.2}, "encoding": {"y": {"datum": 0, "type": "quantitative", "axis": {"values": [-500,0,500,1000,1500,2000], "labelExpr": "datum.value < 0 ? '(' + format(-datum.value, ',') + ')' : format(datum.value, ',')", "labelOverlap": false, "labelColor": {"condition": {"test": "datum.value < 0", "value": "#ff0000"}, "value": "#404040"}, "labelFontWeight": {"condition": {"test": "datum.value < 0", "value": "bold"}, "value": "normal"}, "minExtent": 40, "labelPadding": 11, "title": null}}}}
            ]}
         ], "spacing": 22, "resolve": {"scale": {"fill": "independent", "stroke": "independent"}, "legend": {"fill": "independent", "stroke": "independent"}}},
         {"width": 330, "height": 1, "view": {"fill": "#8c8c8c"}, "data": {"values": [{}]}, "mark": {"type": "point", "size": 0, "opacity": 0},
          "title": {"text": "资料来源：万得，信达证券研发中心", "orient": "bottom", "fontSize": 9, "fontWeight": "normal", "fontStyle": "italic", "color": "#333333", "dx": 48, "offset": 2}}
       ], "spacing": 9, "resolve": {"scale": {"fill": "independent", "stroke": "independent"}, "legend": {"fill": "independent", "stroke": "independent"}}}
     ], "spacing": 0, "resolve": {"scale": {"fill": "independent", "stroke": "independent"}, "legend": {"fill": "independent", "stroke": "independent"}}}
   ], "spacing": 3, "resolve": {"scale": {"fill": "independent", "stroke": "independent"}, "legend": {"fill": "independent", "stroke": "independent"}}}
 ], "spacing": 6, "resolve": {"scale": {"fill": "independent", "stroke": "independent"}, "legend": {"fill": "independent", "stroke": "independent"}}},
 {"width": 1, "height": 79, "data": {"values": [{}]}, "mark": {"type": "point", "size": 0, "opacity": 0}},
 {"hconcat": [
   {"width": 1, "height": 1, "data": {"values": [{}]}, "mark": {"type": "point", "size": 0, "opacity": 0}},
   {"hconcat": [
     {"vconcat": [
       {"width": 325, "height": 1, "view": {"fill": "#8c8c8c"}, "data": {"values": [{}]}, "mark": {"type": "point", "size": 0, "opacity": 0},
        "title": {"text": ["图表 11：2019-2021 年 DTY 价格及 DTY 单吨净利润（元/吨，元/吨）", " "], "dx": 4, "fontSize": 10.5}},
       {"vconcat": [
         {"hconcat": [
           {"width": 1, "height": 1, "data": {"values": [{}]}, "mark": {"type": "point", "size": 0, "opacity": 0}},
           {"width": 215, "height": 140, "view": {"stroke": "#595959", "strokeWidth": 1},
            "layer": [
              {"data": {"name": "q11"}, "mark": {"type": "area"},
               "encoding": {
                 "x": {"field": "d", "type": "temporal", "scale": {"type": "utc", "domain": [{"year":2018,"month":12,"date":30,"utc":true},{"year":2021,"month":3,"date":9,"utc":true}]}, "axis": {"values": [{"year":2019,"month":1,"date":1,"utc":true},{"year":2019,"month":3,"date":1,"utc":true},{"year":2019,"month":5,"date":1,"utc":true},{"year":2019,"month":7,"date":1,"utc":true},{"year":2019,"month":9,"date":1,"utc":true},{"year":2019,"month":11,"date":1,"utc":true},{"year":2020,"month":1,"date":1,"utc":true},{"year":2020,"month":3,"date":1,"utc":true},{"year":2020,"month":5,"date":1,"utc":true},{"year":2020,"month":7,"date":1,"utc":true},{"year":2020,"month":9,"date":1,"utc":true},{"year":2020,"month":11,"date":1,"utc":true},{"year":2021,"month":1,"date":1,"utc":true},{"year":2021,"month":3,"date":1,"utc":true}], "labelExpr": "utcFormat(datum.value, '%-m/%-d/%y')", "labelOverlap": false, "labelAngle": 270, "labelPadding": 5, "title": null}},
                 "y": {"field": "v", "type": "quantitative", "scale": {"domain": [-250, 1200], "nice": false, "zero": false}, "axis": {"orient": "right", "values": [-250,-50,150,350,550,750,950,1150], "labelExpr": "'' + datum.value", "labelOverlap": false, "labelPadding": 10, "title": null}},
                 "fill": {"datum": "DTY单吨净利润（右）", "type": "nominal", "scale": {"range": ["#b4bfce"]}, "legend": {"orient": "none", "legendX": 3, "legendY": 1, "symbolType": "M-1,-0.25H1V0.25H-1Z", "symbolSize": 400, "symbolStrokeWidth": 0, "labelOffset": 4, "labelFontSize": 9, "title": null}}
               }},
              {"data": {"name": "p11"}, "mark": {"type": "line", "strokeWidth": 2.6},
               "encoding": {
                 "x": {"field": "d", "type": "temporal", "axis": {"values": [{"year":2019,"month":1,"date":1,"utc":true},{"year":2019,"month":3,"date":1,"utc":true},{"year":2019,"month":5,"date":1,"utc":true},{"year":2019,"month":7,"date":1,"utc":true},{"year":2019,"month":9,"date":1,"utc":true},{"year":2019,"month":11,"date":1,"utc":true},{"year":2020,"month":1,"date":1,"utc":true},{"year":2020,"month":3,"date":1,"utc":true},{"year":2020,"month":5,"date":1,"utc":true},{"year":2020,"month":7,"date":1,"utc":true},{"year":2020,"month":9,"date":1,"utc":true},{"year":2020,"month":11,"date":1,"utc":true},{"year":2021,"month":1,"date":1,"utc":true},{"year":2021,"month":3,"date":1,"utc":true}], "labelExpr": "utcFormat(datum.value, '%-m/%-d/%y')", "labelOverlap": false, "labelAngle": 270, "labelPadding": 5, "title": null}},
                 "y": {"field": "v", "type": "quantitative", "scale": {"domain": [6000, 12000], "nice": false, "zero": false}, "axis": {"orient": "left", "values": [6000,7000,8000,9000,10000,11000,12000], "labelExpr": "format(datum.value, ',')", "labelOverlap": false, "minExtent": 40, "labelPadding": 11, "title": null}},
                 "stroke": {"datum": "市场价", "type": "nominal", "scale": {"range": ["#1f3864"]}, "legend": {"orient": "none", "legendX": 3, "legendY": 13, "symbolType": "stroke", "symbolSize": 576, "symbolStrokeWidth": 2.6, "labelOffset": 4, "labelFontSize": 9, "title": null, "labelExpr": "['市场价(中间价):涤纶长丝(DTY 150D/48F):', '国内市场']"}}
               }}
            ],
            "resolve": {"scale": {"y": "independent"}}}
         ], "spacing": 16, "resolve": {"scale": {"fill": "independent", "stroke": "independent"}, "legend": {"fill": "independent", "stroke": "independent"}}},
         {"width": 325, "height": 1, "view": {"fill": "#8c8c8c"}, "data": {"values": [{}]}, "mark": {"type": "point", "size": 0, "opacity": 0},
          "title": {"text": "资料来源：万得，信达证券研发中心", "orient": "bottom", "fontSize": 9, "fontWeight": "normal", "fontStyle": "italic", "color": "#333333", "dx": 6, "offset": 2}}
       ], "spacing": 17, "resolve": {"scale": {"fill": "independent", "stroke": "independent"}, "legend": {"fill": "independent", "stroke": "independent"}}}
     ], "spacing": 0, "resolve": {"scale": {"fill": "independent", "stroke": "independent"}, "legend": {"fill": "independent", "stroke": "independent"}}},
     {"vconcat": [
       {"width": 330, "height": 1, "view": {"fill": "#8c8c8c"}, "data": {"values": [{}]}, "mark": {"type": "point", "size": 0, "opacity": 0},
        "title": {"text": ["图表 12：2019-2021 年 0.86 吨 PTA 净利润+1 吨 DTY 单", "吨净利润（元/吨，元/吨）"], "dx": 38}},
       {"vconcat": [
         {"hconcat": [
           {"width": 1, "height": 1, "data": {"values": [{}]}, "mark": {"type": "point", "size": 0, "opacity": 0}},
           {"width": 243, "height": 135, "view": {"stroke": "#404040", "strokeWidth": 1}, "data": {"name": "s12"},
            "layer": [
              {"mark": {"type": "area"},
               "encoding": {
                 "x": {"field": "d", "type": "temporal", "scale": {"type": "utc", "domain": [{"year":2018,"month":12,"date":28,"utc":true},{"year":2021,"month":3,"date":8,"utc":true}]}, "axis": {"values": [{"year":2019,"month":1,"date":1,"utc":true},{"year":2019,"month":3,"date":1,"utc":true},{"year":2019,"month":5,"date":1,"utc":true},{"year":2019,"month":7,"date":1,"utc":true},{"year":2019,"month":9,"date":1,"utc":true},{"year":2019,"month":11,"date":1,"utc":true},{"year":2020,"month":1,"date":1,"utc":true},{"year":2020,"month":3,"date":1,"utc":true},{"year":2020,"month":5,"date":1,"utc":true},{"year":2020,"month":7,"date":1,"utc":true},{"year":2020,"month":9,"date":1,"utc":true},{"year":2020,"month":11,"date":1,"utc":true},{"year":2021,"month":1,"date":1,"utc":true},{"year":2021,"month":3,"date":1,"utc":true}], "labelExpr": "utcFormat(datum.value, '%-m/%-d/%y')", "labelOverlap": false, "labelAngle": 270, "labelPadding": 5, "title": null}},
                 "y": {"field": "l", "type": "quantitative", "scale": {"domain": [-250, 2000], "nice": false, "zero": false}, "axis": {"values": [-250,250,750,1250,1750], "labelExpr": "datum.value < 0 ? '(' + format(-datum.value, ',') + ')' : format(datum.value, ',')", "labelOverlap": false, "labelColor": {"condition": {"test": "datum.value < 0", "value": "#ff0000"}, "value": "#404040"}, "labelFontWeight": {"condition": {"test": "datum.value < 0", "value": "bold"}, "value": "normal"}, "minExtent": 40, "labelPadding": 10, "title": null}},
                 "y2": {"datum": 0},
                 "fill": {"datum": "1吨DTY净利润", "type": "nominal", "scale": {"domain": ["0.86吨PTA净利润", "1吨DTY净利润"], "range": ["#4b5d7f", "#b1bccc"]}, "legend": {"orient": "none", "legendX": 26, "legendY": 13, "direction": "horizontal", "symbolType": "square", "symbolSize": 30, "symbolStrokeWidth": 0, "columnPadding": 34, "labelOffset": 3, "title": null}}
               }},
              {"mark": {"type": "area"},
               "encoding": {
                 "x": {"field": "d", "type": "temporal", "axis": {"values": [{"year":2019,"month":1,"date":1,"utc":true},{"year":2019,"month":3,"date":1,"utc":true},{"year":2019,"month":5,"date":1,"utc":true},{"year":2019,"month":7,"date":1,"utc":true},{"year":2019,"month":9,"date":1,"utc":true},{"year":2019,"month":11,"date":1,"utc":true},{"year":2020,"month":1,"date":1,"utc":true},{"year":2020,"month":3,"date":1,"utc":true},{"year":2020,"month":5,"date":1,"utc":true},{"year":2020,"month":7,"date":1,"utc":true},{"year":2020,"month":9,"date":1,"utc":true},{"year":2020,"month":11,"date":1,"utc":true},{"year":2021,"month":1,"date":1,"utc":true},{"year":2021,"month":3,"date":1,"utc":true}], "labelExpr": "utcFormat(datum.value, '%-m/%-d/%y')", "labelOverlap": false, "labelAngle": 270, "labelPadding": 5, "title": null}},
                 "y": {"field": "t", "type": "quantitative", "axis": {"values": [-250,250,750,1250,1750], "labelExpr": "datum.value < 0 ? '(' + format(-datum.value, ',') + ')' : format(datum.value, ',')", "labelOverlap": false, "labelColor": {"condition": {"test": "datum.value < 0", "value": "#ff0000"}, "value": "#404040"}, "labelFontWeight": {"condition": {"test": "datum.value < 0", "value": "bold"}, "value": "normal"}, "minExtent": 40, "labelPadding": 10, "title": null}},
                 "y2": {"field": "l"},
                 "fill": {"datum": "0.86吨PTA净利润", "type": "nominal"}
               }},
              {"data": {"values": [{}]}, "mark": {"type": "rule", "color": "#000000", "strokeWidth": 1.2}, "encoding": {"y": {"datum": 0, "type": "quantitative", "axis": {"values": [-250,250,750,1250,1750], "labelExpr": "datum.value < 0 ? '(' + format(-datum.value, ',') + ')' : format(datum.value, ',')", "labelOverlap": false, "labelColor": {"condition": {"test": "datum.value < 0", "value": "#ff0000"}, "value": "#404040"}, "labelFontWeight": {"condition": {"test": "datum.value < 0", "value": "bold"}, "value": "normal"}, "minExtent": 40, "labelPadding": 10, "title": null}}}}
            ]}
         ], "spacing": 20, "resolve": {"scale": {"fill": "independent", "stroke": "independent"}, "legend": {"fill": "independent", "stroke": "independent"}}},
         {"width": 330, "height": 1, "view": {"fill": "#8c8c8c"}, "data": {"values": [{}]}, "mark": {"type": "point", "size": 0, "opacity": 0},
          "title": {"text": "资料来源：万得，信达证券研发中心", "orient": "bottom", "fontSize": 9, "fontWeight": "normal", "fontStyle": "italic", "color": "#333333", "dx": 48, "offset": 2}}
       ], "spacing": 19, "resolve": {"scale": {"fill": "independent", "stroke": "independent"}, "legend": {"fill": "independent", "stroke": "independent"}}}
     ], "spacing": 6, "resolve": {"scale": {"fill": "independent", "stroke": "independent"}, "legend": {"fill": "independent", "stroke": "independent"}}}
   ], "spacing": 3, "resolve": {"scale": {"fill": "independent", "stroke": "independent"}, "legend": {"fill": "independent", "stroke": "independent"}}}
 ], "spacing": 6, "resolve": {"scale": {"fill": "independent", "stroke": "independent"}, "legend": {"fill": "independent", "stroke": "independent"}}},
 {"width": 1, "height": 20, "data": {"values": [{}]}, "mark": {"type": "point", "size": 0, "opacity": 0}},
 {"hconcat": [
   {"width": 349, "height": 1, "data": {"values": [{}]}, "mark": {"type": "point", "size": 0, "opacity": 0}},
   {"width": 1, "height": 1, "data": {"values": [{}]}, "mark": {"type": "point", "size": 0, "opacity": 0}, "title": {"text": "请阅读最后一页免责声明及信息披露", "fontSize": 10, "fontWeight": "normal", "color": "#222222", "offset": 0}},
   {"width": 1, "height": 1, "data": {"values": [{}]}, "mark": {"type": "point", "size": 0, "opacity": 0}, "title": {"text": "http://www.cindasc.com", "font": "Liberation Sans", "fontSize": 10.5, "fontWeight": "normal", "color": "#1f6fc5", "offset": 0}},
   {"width": 1, "height": 1, "data": {"values": [{}]}, "mark": {"type": "point", "size": 0, "opacity": 0}, "title": {"text": "4", "font": "Liberation Sans", "fontSize": 10, "fontWeight": "normal", "color": "#222222", "offset": 0, "dx": 10}}
 ], "spacing": 4}
]
}
